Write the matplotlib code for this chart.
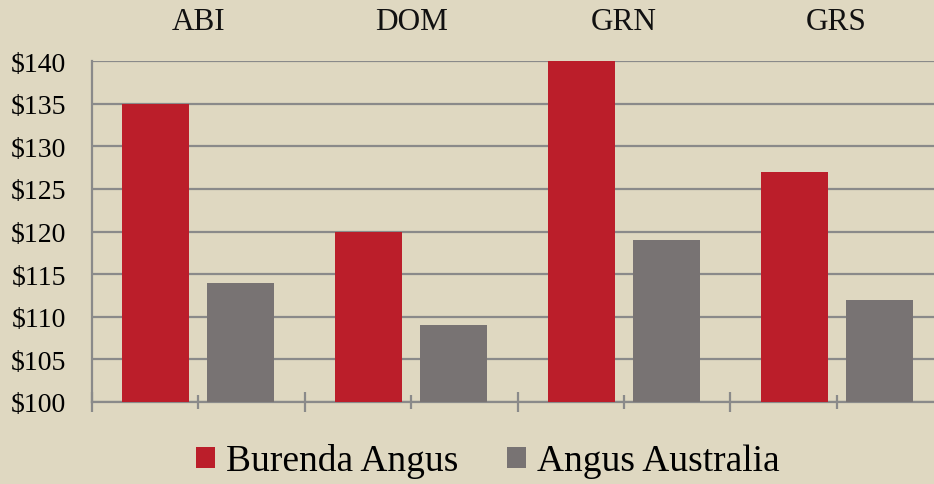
import matplotlib
matplotlib.use("Agg")
import matplotlib.pyplot as plt
import numpy as np
from matplotlib.patches import Patch

categories = ["ABI", "DOM", "GRN", "GRS"]
burenda = [135, 120, 140, 127]
angus_aus = [114, 109, 119, 112]
series_names = ["Burenda Angus", "Angus Australia"]
yticks = [100, 105, 110, 115, 120, 125, 130, 135, 140]
ytick_labels = ["$" + str(v) for v in yticks]

bg = "#DFD8C1"
red = "#BB1E2A"
grey = "#787373"
gridc = "#8A8A8A"

plt.rcParams['font.family'] = ['Liberation Serif', 'DejaVu Serif']

fig = plt.figure(figsize=(9.34, 4.85), dpi=100, facecolor=bg)
ax = fig.add_axes([92/934, 82/485, 851/934, 341/485])
ax.set_facecolor(bg)

x = np.arange(len(categories))
w = 0.315
ax.bar(x - 0.2, np.array(burenda) - 100, bottom=100, width=w, color=red, zorder=3)
ax.bar(x + 0.2, np.array(angus_aus) - 100, bottom=100, width=w, color=grey, zorder=3)

ax.set_xlim(-0.5, len(categories) - 0.5)
ax.set_ylim(100, 140)
ax.set_yticks(yticks)
ax.set_yticklabels(ytick_labels, fontsize=20)
ax.tick_params(axis='y', length=0, pad=18.5)
ax.yaxis.grid(True, color=gridc, linewidth=1.6, zorder=0)
ax.set_axisbelow(True)

for s in ['top', 'right']:
    ax.spines[s].set_visible(False)
for s in ['left', 'bottom']:
    ax.spines[s].set_color(gridc)
    ax.spines[s].set_linewidth(1.6)

# bottom ticks: category centers (minor) and boundaries (major)
ax.set_xticks(np.arange(len(categories) + 1) - 0.5)
ax.set_xticks(x, minor=True)
ax.tick_params(axis='x', which='major', direction='inout', length=14, width=1.6,
               color=gridc, labelbottom=False)
ax.tick_params(axis='x', which='minor', direction='inout', length=10, width=1.6,
               color=gridc, labelbottom=False)

# category labels at top
for xi, c in zip(x, categories):
    ax.text(xi, 1.0 + 40/341, c, transform=ax.get_xaxis_transform(),
            ha='center', va='center', fontsize=22.5, color='#111111')

handles = [Patch(facecolor=red, edgecolor='none'), Patch(facecolor=grey, edgecolor='none')]
fig.legend(handles, series_names, loc='center', bbox_to_anchor=(488/934, 1 - 462/485),
           ncol=2, frameon=False, fontsize=27, handlelength=0.5, handleheight=0.5,
           handletextpad=0.3, columnspacing=1.3)

fig.savefig("out.png", dpi=100, facecolor=bg)
